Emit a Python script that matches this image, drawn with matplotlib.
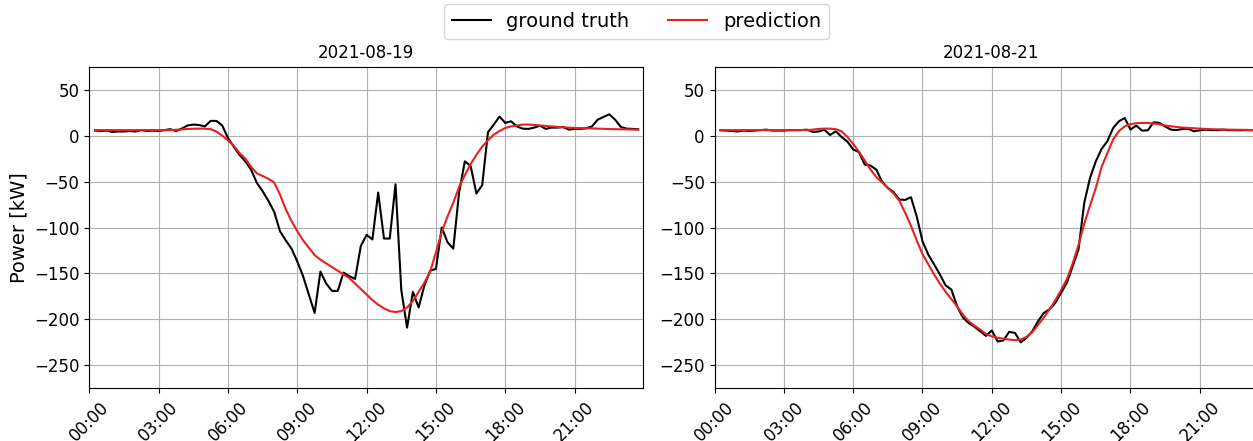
import matplotlib
matplotlib.use("Agg")
import matplotlib.pyplot as plt
import matplotlib.dates as mdates
import pandas as pd

# 15-minute power readings (kW), 00:15 .. 23:45
day_labels = ["2021-08-19", "2021-08-21"]

truth_0819 = [
    5.5, 5, 5.5, 4, 4.5, 4.5, 5, 4.5, 6, 5, 5.5, 5, 6, 7, 5,
    7.6, 11, 12, 11.5, 10, 16, 16, 11, -2.5, -12, -21, -28, -37, -51.5,
    -60.5, -71, -83, -104, -114, -123, -137, -153, -173, -193, -148, -161,
    -169, -169, -149, -153, -156, -120,
    -108, -113, -62, -112, -112, -53, -168, -209, -170, -187, -163, -147,
    -145, -100, -116, -123, -62, -28, -33, -63, -54, 3.6, 12, 20.7, 13.8,
    15.6, 10, 7.6, 7.3, 8.7, 10.9, 7.3, 8.7, 8.7, 9.4, 6.5, 7.3, 7.3, 8,
    10, 17.4, 20.3, 23.2, 17.4, 9.4, 7.6, 7.3, 6.9,
]

pred_0819 = [
    6, 6, 6, 6, 6, 6, 6, 6, 6, 6, 6, 6, 6, 6, 6.3,
    6.8, 7.2, 7.5, 7.6, 7.5, 7, 4.5, 0, -5, -11, -19, -25, -34, -41,
    -44, -47, -51, -64, -80, -93, -104, -114, -122, -130, -135, -139,
    -143, -147, -151, -155, -161, -167,
    -173, -179, -184, -188, -191, -192, -191, -187, -180, -170, -160, -148,
    -127, -105, -88, -73, -56, -43, -31, -21, -12, -5, 1, 5, 8.3,
    10, 11, 12, 12, 11.6, 11, 10.5, 10, 9.5, 9, 8.7, 8.4, 8.2, 8,
    7.8, 7.6, 7.4, 7.2, 7, 6.9, 6.8, 6.6, 6.5,
]

truth_0821 = [
    5.8, 5.5, 5, 4.5, 5.5, 5, 5.5, 6, 6.5, 5.5, 5.5, 5.5, 6, 6, 6,
    6.5, 4, 4.4, 6.5, 0.7, 4.7, -1.5, -6.5, -15, -18, -31.5, -32.6, -37, -50,
    -57, -61.5, -69.6, -70, -67, -88, -115, -129.5, -140, -151, -163, -167.6,
    -186, -198, -204, -208, -213, -218,
    -212, -224, -223, -213.6, -214.7, -225, -220, -213, -202, -193, -189, -182,
    -171, -160, -142, -124, -73, -46, -28, -14.5, -6, 8.3, 15.6, 19.2, 6.5,
    11, 5.4, 5.8, 14.5, 13.8, 10, 6.5, 6, 7.3, 7.3, 4.7, 5.8, 6.5, 6,
    6, 6.5, 6, 6, 5.8, 6, 5.8, 6, 5.8,
]

pred_0821 = [
    6, 6, 6, 6, 6, 6, 6, 6, 6, 6, 6, 6, 6, 6, 6,
    6, 6.5, 7.3, 7.6, 7.6, 7, 4.7, -1.5, -9, -17.5, -27, -37, -45, -51,
    -57, -63, -71, -84, -98, -114, -129, -140, -151, -161, -170, -178,
    -186, -195, -202, -207, -211, -216,
    -218.5, -220, -221, -222, -222.6, -222, -219, -214, -206, -198, -189, -179,
    -168, -156, -139, -119, -96, -76, -57, -34, -19, -4, 5, 10, 12.5,
    13.5, 13.8, 13.8, 13.2, 12.3, 11, 10.2, 9.4, 8.8, 8.3, 8, 7.6, 7.3, 7,
    6.8, 6.6, 6.5, 6.4, 6.3, 6.2, 6.1, 6, 6,
]

truths = [truth_0819, truth_0821]
preds = [pred_0819, pred_0821]

W, H = 1253, 441
fig = plt.figure(figsize=(W / 100, H / 100), dpi=100)

ax_w = 553.5 / W
ax_h = 321.6 / H
ax_b = 1 - 388.3 / H
lefts = [89.3 / W, 714.5 / W]

handles = None
for k, (day, gt, pr) in enumerate(zip(day_labels, truths, preds)):
    ax = fig.add_axes([lefts[k], ax_b, ax_w, ax_h])
    t = pd.date_range(f"{day} 00:15", periods=len(gt), freq="15min")
    l1, = ax.plot(t, gt, color="black", lw=1.5, label="ground truth")
    l2, = ax.plot(t, pr, color="#e8201e", lw=1.5, label="prediction")
    handles = [l1, l2]
    start = pd.Timestamp(f"{day} 00:00")
    ax.set_xlim(start, start + pd.Timedelta(minutes=1437))
    ax.set_ylim(-275, 75)
    ax.set_yticks([50, 0, -50, -100, -150, -200, -250])
    ax.xaxis.set_major_locator(mdates.HourLocator(byhour=range(0, 24, 3)))
    ax.xaxis.set_major_formatter(mdates.DateFormatter("%H:%M"))
    ax.tick_params(axis="both", labelsize=12)
    for lab in ax.get_xticklabels():
        lab.set_rotation(45)
    ax.grid(True)
    ax.set_title(day, fontsize=12)
    if k == 0:
        ax.set_ylabel("Power [kW]", fontsize=14)

fig.legend(handles, ["ground truth", "prediction"], loc="upper center",
           bbox_to_anchor=(636.5 / W, 1 - 4 / H), borderaxespad=0,
           ncol=2, fontsize=14)

fig.savefig("out.png", dpi=100)
